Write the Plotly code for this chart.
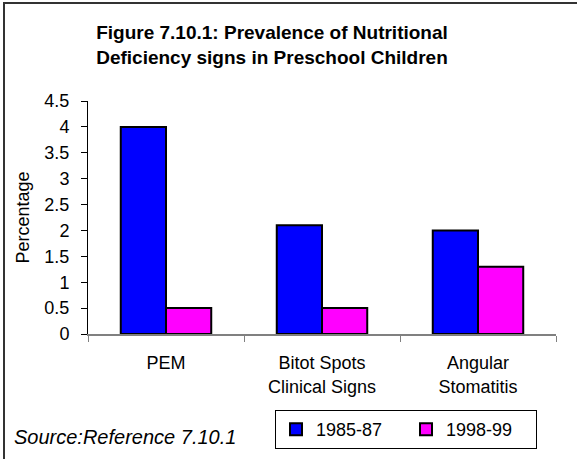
import plotly.graph_objects as go

categories = ["PEM", "Bitot Spots<br>Clinical Signs", "Angular<br>Stomatitis"]
series_names = ["1985-87", "1998-99"]
values_1985 = [4.0, 2.1, 2.0]
values_1998 = [0.5, 0.5, 1.3]
colors = ["#0000FF", "#FF00FF"]

W, H = 577, 459
FONT = "Arial, Liberation Sans, sans-serif"

# pixel -> paper helpers (margins are zero, so paper == whole figure)
fx = lambda px: px / W
fy = lambda py: 1 - py / H

fig = go.Figure()
for name, vals, col in zip(series_names, [values_1985, values_1998], colors):
    fig.add_trace(go.Bar(
        x=categories, y=vals, name=name,
        marker=dict(color=col, line=dict(color="black", width=2)),
    ))

# empty helper trace so the frame axes (x2/y2) are drawn
fig.add_trace(go.Scatter(x=[], y=[], xaxis="x2", yaxis="y2",
                         showlegend=False, hoverinfo="skip"))

frame_axis = dict(showline=True, linecolor="#333333", linewidth=2,
                  showgrid=False, zeroline=False, showticklabels=False,
                  ticks="", range=[0, 1], fixedrange=True, automargin=False)

fig.update_layout(
    width=W, height=H,
    margin=dict(l=0, r=0, t=0, b=0, autoexpand=False),
    paper_bgcolor="white", plot_bgcolor="rgba(0,0,0,0)",
    barmode="group", bargap=0.42, bargroupgap=0,
    font=dict(family=FONT, size=18, color="black"),
    title=dict(
        text="<b>Figure 7.10.1: Prevalence of Nutritional<br>Deficiency signs in Preschool Children</b>",
        x=272 / W, xref="container", xanchor="center",
        y=1 - 39 / H, yref="container", yanchor="top",
        font=dict(family=FONT, size=19, color="black"),
    ),
    showlegend=True,
    legend=dict(
        orientation="h",
        x=275 / W, xref="container", xanchor="left",
        y=1 - 410 / H, yref="container", yanchor="top",
        bordercolor="black", borderwidth=1, bgcolor="white",
        font=dict(family=FONT, size=18, color="black"),
        entrywidth=85,
    ),
    xaxis=dict(
        domain=[fx(88), fx(556)],
        type="category", tickson="boundaries", ticks="outside", ticklen=6,
        tickcolor="#808080", showline=True, linecolor="#808080", linewidth=1.5,
        showgrid=False, ticklabelstandoff=12, automargin=False,
        tickfont=dict(family=FONT, size=18, color="black"),
    ),
    yaxis=dict(
        domain=[fy(334), fy(101)],
        range=[0, 4.5], dtick=0.5, ticks="outside", ticklen=6,
        tickcolor="black", showline=True, linecolor="black", linewidth=1,
        showgrid=False, zeroline=False, ticklabelstandoff=8, automargin=False,
        title=dict(text="Percentage", standoff=10, font=dict(family=FONT, size=18)),
        tickfont=dict(family=FONT, size=18, color="black"),
    ),
    # outer frame: left and top edges; right/bottom run past the window
    xaxis2=dict(domain=[fx(5), 1], anchor="y2", side="top", **frame_axis),
    yaxis2=dict(domain=[0, fy(4)], anchor="x2", side="left", **frame_axis),
)

fig.add_annotation(
    text="<i>Source:Reference 7.10.1</i>",
    xref="paper", yref="paper",
    x=fx(12), xanchor="left",
    y=fy(437), yanchor="middle",
    showarrow=False, font=dict(family=FONT, size=20, color="black"),
)

fig.write_html("out.html", config={"displayModeBar": False},
               post_script="document.body.style.margin='0';")
